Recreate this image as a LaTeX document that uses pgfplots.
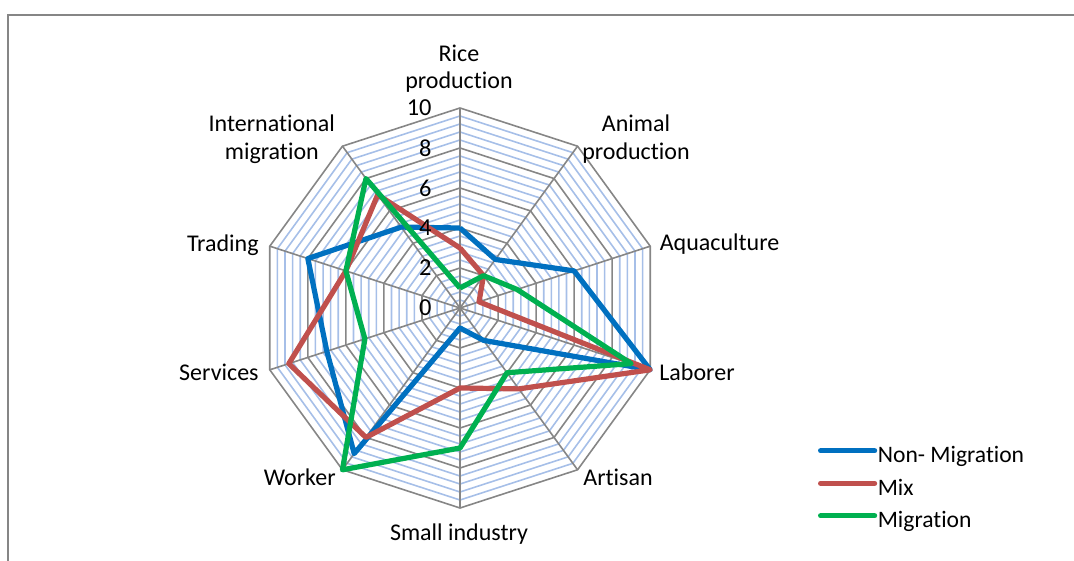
\documentclass[border=0pt]{standalone}
\usepackage{pgfplots}
\pgfplotsset{compat=1.18}
\usepgfplotslibrary{polar}
\usepackage{fontspec}
\setmainfont{Carlito}[Ligatures=NoCommon]
\definecolor{sBlue}{RGB}{0,112,192}
\definecolor{sRed}{RGB}{192,80,77}
\definecolor{sGreen}{RGB}{0,176,80}
\definecolor{majGrid}{RGB}{134,134,134}
\definecolor{minGrid}{RGB}{166,191,232}
\begin{document}
\begin{tikzpicture}
\useasboundingbox (0,0) rectangle (537pt,280.5pt);
\draw[majGrid, line width=0.8pt] (4pt,-1pt) -- (4pt,273pt) -- (538pt,273pt);
\begin{axis}[
  at={(0,0)}, anchor=south west,
  width=537pt, height=280.5pt, scale only axis,
  xmin=-23, xmax=30.7, ymin=-12.65, ymax=15.4,
  hide axis, clip=false,
  legend style={at={(axis cs:17.9,-6.69)}, anchor=north west, draw=none, fill=none,
    inner sep=0pt, outer sep=0pt, row sep=0pt, column sep=0.3pt,
    font=\fontsize{11.8}{14}\selectfont,
    nodes={inner sep=0pt, outer sep=0pt, text height=10.5pt, text depth=5.75pt}},
  legend cell align=left,
  legend image code/.code={\draw[#1, line cap=round] (0pt,3.6pt) -- (27pt,3.6pt);},
]
% minor grid
\pgfplotsinvokeforeach{0.4,0.8,1.2,1.6,2.4,2.8,3.2,3.6,4.4,4.8,5.2,5.6,6.4,6.8,7.2,7.6,8.4,8.8,9.2,9.6}{
  \addplot[minGrid, line width=0.8pt, data cs=polar, forget plot] coordinates
   {(90,#1) (54,#1) (18,#1) (-18,#1) (-54,#1) (-90,#1) (-126,#1) (-162,#1) (-198,#1) (-234,#1) (-270,#1)};
}
% major grid
\pgfplotsinvokeforeach{2,4,6,8,10}{
  \addplot[majGrid, line width=0.8pt, data cs=polar, forget plot] coordinates
   {(90,#1) (54,#1) (18,#1) (-18,#1) (-54,#1) (-90,#1) (-126,#1) (-162,#1) (-198,#1) (-234,#1) (-270,#1)};
}
\pgfplotsinvokeforeach{90,54,18,-18,-54,-90,-126,-162,-198,-234}{
  \addplot[majGrid, line width=0.8pt, data cs=polar, forget plot] coordinates {(#1,0) (#1,10)};
}
% series: (angle, value); categories clockwise from Rice production
\addplot[sBlue, line width=2.6pt, line join=round, data cs=polar] coordinates
 {(90,4) (54,3) (18,6) (-18,10) (-54,2) (-90,1) (-126,9) (-162,7) (-198,8) (-234,5) (-270,4)};
\addlegendentry{Non- Migration}
\addplot[sRed, line width=2.6pt, line join=round, data cs=polar] coordinates
 {(90,3) (54,2) (18,1) (-18,10) (-54,5) (-90,4) (-126,8) (-162,9) (-198,6) (-234,7) (-270,3)};
\addlegendentry{Mix}
\addplot[sGreen, line width=2.6pt, line join=round, data cs=polar] coordinates
 {(90,1) (54,2) (18,3) (-18,9) (-54,4) (-90,7) (-126,10) (-162,5) (-198,6) (-234,8) (-270,1)};
\addlegendentry{Migration}
% tick labels
\pgfplotsinvokeforeach{0,2,4,6,8,10}{
  \node[anchor=east, inner sep=0pt, font=\fontsize{12.2}{14}\selectfont] at (axis cs:-1.4,#1) {#1};
}
% category labels
\begin{scope}[every node/.style={inner sep=0pt, font=\fontsize{12}{14}\selectfont}]
\node[anchor=base] at (axis cs:-0.05,12.32) {Rice};
\node[anchor=base] at (axis cs:-0.05,10.96) {production};
\node[anchor=base] at (axis cs:8.8,8.82) {Animal};
\node[anchor=base] at (axis cs:8.8,7.44) {production};
\node[anchor=base west] at (axis cs:9.97,2.85) {Aquaculture};
\node[anchor=base west] at (axis cs:9.95,-3.63) {Laborer};
\node[anchor=base west] at (axis cs:6.15,-8.88) {Artisan};
\node[anchor=base] at (axis cs:-0.05,-11.65) {Small industry};
\node[anchor=base east] at (axis cs:-6.2,-8.88) {Worker};
\node[anchor=base east] at (axis cs:-10.05,-3.63) {Services};
\node[anchor=base east] at (axis cs:-10.05,2.82) {Trading};
\node[anchor=base] at (axis cs:-9.41,8.82) {International};
\node[anchor=base] at (axis cs:-9.41,7.44) {migration};
\end{scope}
\end{axis}
\end{tikzpicture}
\end{document}
